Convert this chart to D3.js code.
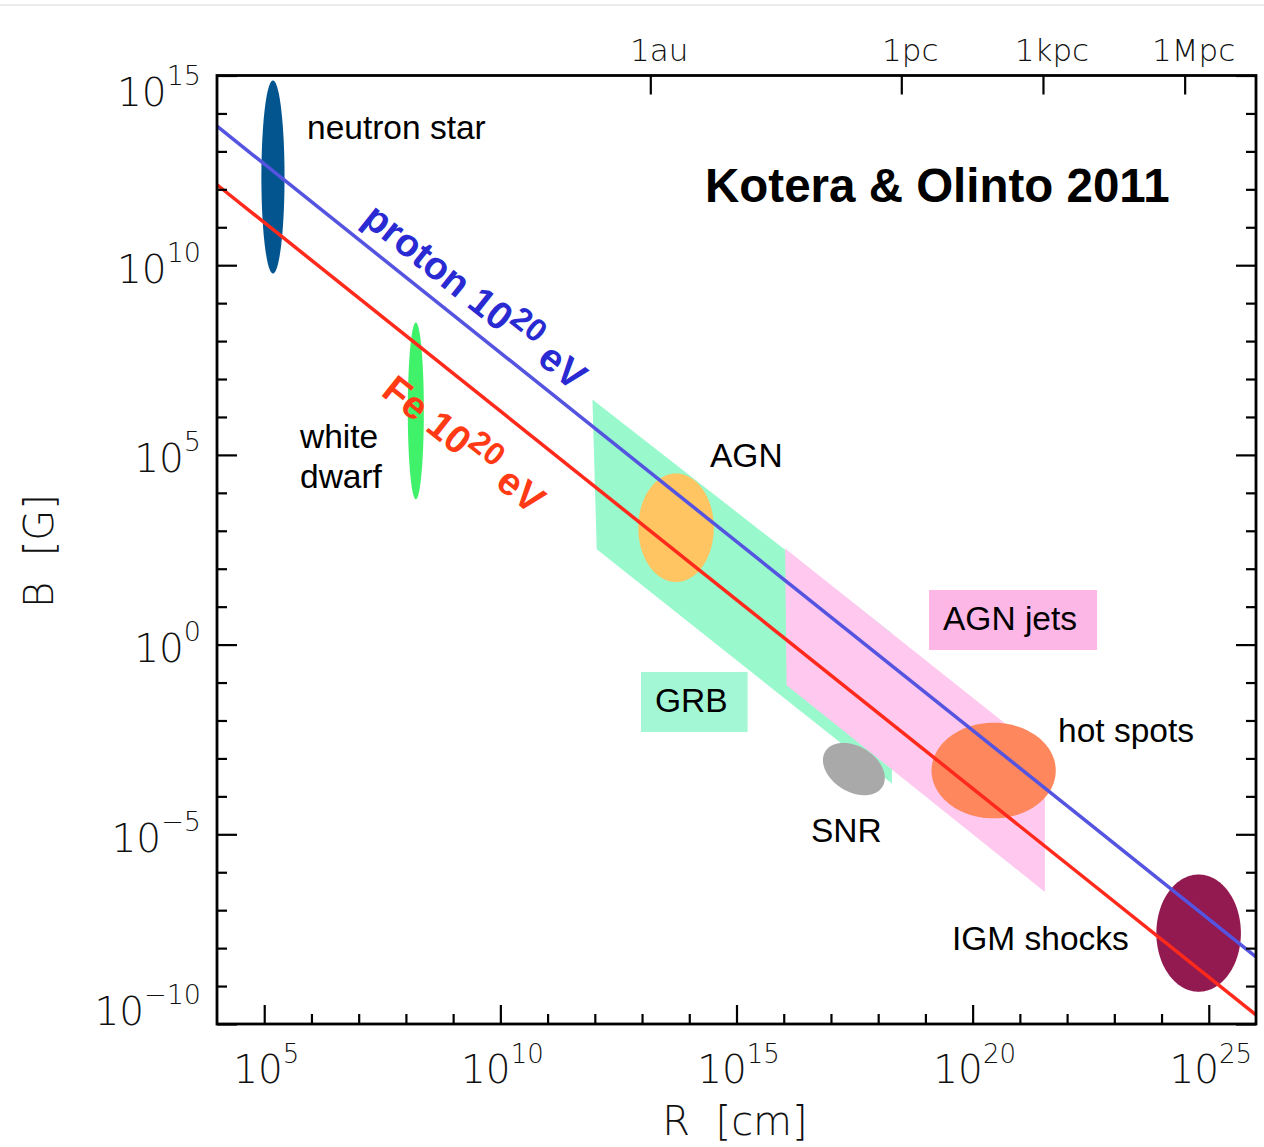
<!DOCTYPE html>
<html>
<head>
<meta charset="utf-8">
<script src="https://cdn.jsdelivr.net/npm/d3@7"></script>
<style>
  html, body { margin: 0; padding: 0; background: #fff; }
  svg { display: block; }
  .tick-label, .axis-title { font-family: "DejaVu Sans", "Noto Sans", sans-serif; font-weight: 200; fill: #111; }
  .src-label { font-family: "Liberation Sans", Arial, Helvetica, sans-serif; font-size: 33.5px; fill: #000; }
</style>
</head>
<body>
<svg id="chart" width="1264" height="1147"></svg>
<script>
// ---- axis ticks (log10 exponents) ----
const xMajorExp = [5, 10, 15, 20, 25];
const xMinorExp = d3.range(5, 26);
const yMajorExp = [-10, -5, 0, 5, 10, 15];
const yMinorExp = d3.range(-10, 16);

// ---- physical length scales on the top axis ----
const scaleNames = ["1au", "1pc", "1kpc", "1Mpc"];
const scaleCm = [1.496e13, 3.086e18, 3.086e21, 3.086e24];

// ---- Hillas condition lines for E = 10^20 eV ----
const hillasR = [1e4, 1e26];
const protonB = [4.6e13, 5.9e-9];
const ironB = [1.32e12, 1.74e-10];

// ---- sources drawn as ellipses: log10 R range, log10 B range, tilt ----
const ellipseNames = ["neutron star", "white dwarf", "AGN", "SNR", "hot spots", "IGM shocks"];
const ellipseLogR = [[4.94, 5.43], [8.04, 8.38], [12.92, 14.52], [16.83, 18.14], [19.13, 21.76], [23.89, 25.68]];
const ellipseLogB = [[9.78, 14.87], [3.83, 8.49], [1.65, 4.51], [-3.97, -2.59], [-4.58, -2.06], [-9.15, -6.06]];
const ellipseTilt = [0, 0, 0, -0.34, 0, 0];
const ellipseColors = ["#03558f", "#40f26a", "#ffc562", "#a9a9a9", "#ff875d", "#931a50"];

// ---- sources drawn as bands (polygon corners) ----
const bandNames = ["GRB", "AGN jets"];
const bandLogR = [[11.95, 12.04, 18.29, 18.29], [16.03, 16.06, 21.53, 21.53]];
const bandLogB = [[6.46, 2.51, -3.66, 0.30], [2.53, -1.07, -6.52, -2.91]];
const bandColors = ["#99f9cd", "#ffc8ee"];
const bandLabelColors = ["#a3f7d5", "#fdb7e7"];

const svg = d3.select("#chart");
const W = 1264, H = 1147;
const plot = { left: 217, right: 1256, top: 75.5, bottom: 1024 };

const x = d3.scaleLog().domain([1e4, 1e26]).range([plot.left, plot.right]);
const y = d3.scaleLog().domain([1e-10, 1e15]).range([plot.bottom, plot.top]);

svg.append("rect").attr("width", W).attr("height", H).attr("fill", "#fff");
svg.append("line").attr("x1", 0).attr("x2", W).attr("y1", 5).attr("y2", 5)
  .attr("stroke", "#e6e6e6").attr("stroke-width", 1.5);

const marks = svg.append("g");

// bands
const bandLine = d3.line().x(d => x(d[0])).y(d => y(d[1]));
bandNames.forEach((name, i) => {
  const pts = bandLogR[i].map((r, k) => [10 ** r, 10 ** bandLogB[i][k]]);
  marks.append("path")
    .attr("d", bandLine(pts) + "Z")
    .attr("fill", bandColors[i]);
});

// ellipses in log space
const ellipseLine = d3.line().x(d => x(d[0])).y(d => y(d[1])).curve(d3.curveLinearClosed);
ellipseNames.forEach((name, i) => {
  const [r0, r1] = ellipseLogR[i], [b0, b1] = ellipseLogB[i];
  const cr = (r0 + r1) / 2, hr = (r1 - r0) / 2;
  const cb = (b0 + b1) / 2, hb = (b1 - b0) / 2;
  const rho = ellipseTilt[i], s = Math.sqrt(1 - rho * rho);
  const pts = d3.range(0, 2 * Math.PI, Math.PI / 90).map(t => [
    10 ** (cr + hr * Math.cos(t)),
    10 ** (cb + hb * (rho * Math.cos(t) + s * Math.sin(t)))
  ]);
  marks.append("path").attr("d", ellipseLine(pts)).attr("fill", ellipseColors[i]);
});

// Hillas lines
const hLine = d3.line().x(d => x(d[0])).y(d => y(d[1]));
const lineColors = ["#5454e0", "#ff2a1c"];
[protonB, ironB].forEach((bs, i) => {
  marks.append("path")
    .attr("d", hLine(hillasR.map((r, k) => [r, bs[k]])))
    .attr("fill", "none")
    .attr("stroke", lineColors[i])
    .attr("stroke-width", 3.5);
});

// ---- frame and ticks ----
function tickAxis(gen, tx, ty) {
  const g = svg.append("g").attr("transform", `translate(${tx},${ty})`).call(gen);
  g.select(".domain").remove();
  g.selectAll(".tick line").attr("stroke", "#000").attr("stroke-width", 2.2);
  g.selectAll(".tick text").remove();
  return g;
}
const xMinorV = xMinorExp.filter(e => e % 5 !== 0).map(e => 10 ** e);
const xMajorV = xMajorExp.map(e => 10 ** e);
const yMinorV = yMinorExp.filter(e => e % 5 !== 0).map(e => 10 ** e);
const yMajorV = yMajorExp.map(e => 10 ** e);

tickAxis(d3.axisTop(x).tickValues(xMinorV).tickSize(10).tickFormat(""), 0, plot.bottom);
tickAxis(d3.axisTop(x).tickValues(xMajorV).tickSize(19).tickFormat(""), 0, plot.bottom);
tickAxis(d3.axisRight(y).tickValues(yMinorV).tickSize(10).tickFormat(""), plot.left, 0);
tickAxis(d3.axisRight(y).tickValues(yMajorV).tickSize(20).tickFormat(""), plot.left, 0);
tickAxis(d3.axisLeft(y).tickValues(yMinorV).tickSize(10).tickFormat(""), plot.right, 0);
tickAxis(d3.axisLeft(y).tickValues(yMajorV).tickSize(20).tickFormat(""), plot.right, 0);
tickAxis(d3.axisBottom(x).tickValues(scaleCm).tickSize(19).tickFormat(""), 0, plot.top);

svg.append("rect")
  .attr("x", plot.left).attr("y", plot.top)
  .attr("width", plot.right - plot.left).attr("height", plot.bottom - plot.top)
  .attr("fill", "none").attr("stroke", "#000").attr("stroke-width", 2.8);

// ---- tick labels ----
function powerLabel(sel, exp, supSize) {
  sel.append("tspan").text("10");
  sel.append("tspan").attr("font-size", supSize).attr("dy", "-0.78em")
    .text(exp < 0 ? "\u2212" + (-exp) : String(exp));
}
xMajorExp.forEach(e => {
  const t = svg.append("text").attr("class", "tick-label")
    .attr("x", x(10 ** e) + 2).attr("y", 1083)
    .attr("text-anchor", "middle").attr("font-size", 39);
  powerLabel(t, e, 26);
});
yMajorExp.forEach((e, i) => {
  let dy = 17.5;
  if (i === 0) dy = 1;
  if (i === yMajorExp.length - 1) dy = 30.5;
  const t = svg.append("text").attr("class", "tick-label")
    .attr("x", 201).attr("y", y(10 ** e) + dy)
    .attr("text-anchor", "end").attr("font-size", 39);
  powerLabel(t, e, 27);
});
scaleNames.forEach((n, i) => {
  svg.append("text").attr("class", "tick-label")
    .attr("x", x(scaleCm[i]) + 9).attr("y", 61)
    .attr("text-anchor", "middle").attr("font-size", 31)
    .text(n);
});

// axis titles
svg.append("text").attr("class", "axis-title")
  .attr("x", 735).attr("y", 1135).attr("text-anchor", "middle")
  .attr("font-size", 40).attr("xml:space", "preserve").text("R  [cm]");
svg.append("text").attr("class", "axis-title")
  .attr("transform", "translate(53,551) rotate(-90)").attr("text-anchor", "middle")
  .attr("font-size", 40).attr("xml:space", "preserve").text("B  [G]");

// ---- source labels ----
const labelPos = {
  "neutron star": [307, 139],
  "AGN": [710, 467],
  "SNR": [811, 842],
  "hot spots": [1058, 742],
  "IGM shocks": [952, 950]
};
Object.entries(labelPos).forEach(([name, p]) => {
  svg.append("text").attr("class", "src-label").attr("x", p[0]).attr("y", p[1]).text(name);
});
const wd = svg.append("text").attr("class", "src-label").attr("x", 300).attr("y", 448);
wd.append("tspan").attr("x", 300).text("white");
wd.append("tspan").attr("x", 300).attr("dy", 40).text("dwarf");

// boxed band labels
const bandLabelPos = [[655, 712], [943, 630]];
bandNames.forEach((name, i) => {
  const g = svg.append("g");
  const rect = g.append("rect").attr("fill", bandLabelColors[i]);
  const t = g.append("text").attr("class", "src-label")
    .attr("x", bandLabelPos[i][0]).attr("y", bandLabelPos[i][1]).text(name);
  const bb = t.node().getBBox();
  rect.attr("x", bb.x - 14).attr("y", bb.y - 10)
    .attr("width", bb.width + 34).attr("height", bb.height + 23);
});

// title
svg.append("text")
  .attr("x", 705).attr("y", 202)
  .attr("font-family", "'Liberation Sans', Arial, Helvetica, sans-serif")
  .attr("font-weight", "bold").attr("font-size", 47.5)
  .text("Kotera & Olinto 2011");

// ---- rotated line labels, laid along each Hillas line ----
function lineLabel(bs, along, offset, color, particle) {
  const x0 = x(hillasR[0]), y0 = y(bs[0]);
  const x1 = x(hillasR[1]), y1 = y(bs[1]);
  const ang = Math.atan2(y1 - y0, x1 - x0);
  const ux = Math.cos(ang), uy = Math.sin(ang);
  const px = x0 + ux * along + Math.sin(ang) * offset;
  const py = y0 + uy * along - Math.cos(ang) * offset;
  const t = svg.append("text")
    .attr("transform", `translate(${px},${py}) rotate(${ang * 180 / Math.PI})`)
    .attr("font-family", "'Liberation Sans', Arial, Helvetica, sans-serif")
    .attr("font-weight", "bold").attr("font-size", 39)
    .attr("fill", color)
    .attr("xml:space", "preserve");
  t.append("tspan").text(particle + " 10");
  t.append("tspan").attr("font-size", 32).attr("dy", -14).text("20");
  t.append("tspan").attr("dy", 14).text(" eV");
}
lineLabel(protonB, 172, 15, "#2a2ad2", "proton");
lineLabel(ironB, 258, -62, "#ff3a14", "Fe");
</script>
</body>
</html>
